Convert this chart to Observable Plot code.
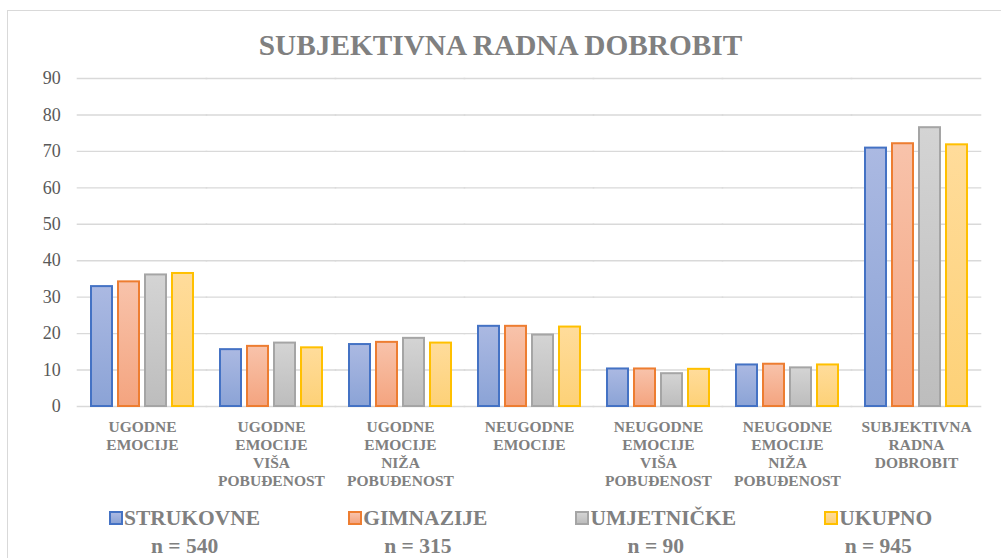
<!DOCTYPE html>
<html><head><meta charset="utf-8">
<script src="https://cdn.jsdelivr.net/npm/d3@7"></script>
<script src="https://cdn.jsdelivr.net/npm/@observablehq/plot@0.6"></script>
<style>
body{margin:0;background:#fff;}
#wrap{position:relative;width:1001px;height:558px;overflow:hidden;background:#fff;font-family:"Liberation Serif","Times New Roman",serif;}
#frame{position:absolute;left:7px;top:10px;width:1100px;height:700px;border:1.5px solid #d9d9d9;box-sizing:border-box;z-index:2;pointer-events:none}
#title{position:absolute;left:0;top:31px;width:1001px;text-align:center;font-weight:bold;font-size:29.3px;line-height:28px;color:#808080}
#chart{position:absolute;left:0;top:65px}
#legend{position:absolute;left:109px;top:503.6px;display:flex;gap:88px}
.item{display:flex;flex-direction:column;align-items:center;font-weight:bold;font-size:21.5px;line-height:28px;color:#808080}
.key{display:flex;align-items:center}
.sw{width:14px;height:14px;box-sizing:border-box;border:2px solid;margin-right:1px}
</style></head>
<body>
<div id="wrap">
  <div id="frame"></div>
  <div id="title"></div>
  <div id="chart"></div>
  <div id="legend"></div>
</div>
<script>
// ---- data ----
const chartTitle = "SUBJEKTIVNA RADNA DOBROBIT";
const categories = [
  "UGODNE\nEMOCIJE",
  "UGODNE\nEMOCIJE\nVIŠA\nPOBUĐENOST",
  "UGODNE\nEMOCIJE\nNIŽA\nPOBUĐENOST",
  "NEUGODNE\nEMOCIJE",
  "NEUGODNE\nEMOCIJE\nVIŠA\nPOBUĐENOST",
  "NEUGODNE\nEMOCIJE\nNIŽA\nPOBUĐENOST",
  "SUBJEKTIVNA\nRADNA\nDOBROBIT"
];
const series = ["STRUKOVNE", "GIMNAZIJE", "UMJETNIČKE", "UKUPNO"];
const sampleSizes = ["n = 540", "n = 315", "n = 90", "n = 945"];
const strukovne  = [32.9, 15.6, 17.0, 22.0, 10.3, 11.4, 70.9];
const gimnazije  = [34.2, 16.5, 17.6, 22.0, 10.3, 11.6, 72.1];
const umjetnicke = [36.1, 17.4, 18.7, 19.6,  9.0, 10.6, 76.5];
const ukupno     = [36.5, 16.1, 17.4, 21.8, 10.2, 11.4, 71.8];
const yTicks = [0, 10, 20, 30, 40, 50, 60, 70, 80, 90];

// ---- styles / layout ----
const strokeColors = ["#4472C4", "#ED7D31", "#A5A5A5", "#FFC000"];
const gradTop = ["#abb9e2", "#f8c3ab", "#d4d4d4", "#ffdc9b"];
const gradBottom = ["#8ba3d6", "#f4a47f", "#bdbdbd", "#fdd177"];
const font = "Liberation Serif, Times New Roman, serif";
const W = 1001, H = 430, mL = 75, mR = 18.3;
const fxPadInner = 0.182, fxPadOuter = 0.091;
const fxStep = (W - mL - mR) / categories.length;
const halfGap = fxStep * fxPadOuter;

const seriesValues = [strukovne, gimnazije, umjetnicke, ukupno];
const rows = [];
categories.forEach((c, i) => series.forEach((s, j) => rows.push({category: c, series: s, value: seriesValues[j][i]})));

const titleEl = document.getElementById("title");
titleEl.textContent = chartTitle;
titleEl.style.fontFamily = font;

const chart = Plot.plot({
  width: W, height: H,
  marginTop: 13, marginBottom: 89, marginLeft: mL, marginRight: mR,
  style: {background: "transparent", fontFamily: font, overflow: "visible"},
  fx: {domain: categories, paddingInner: fxPadInner, paddingOuter: fxPadOuter, label: null},
  x: {domain: series, paddingInner: 0.21, paddingOuter: 0, axis: null},
  y: {domain: [0, 90], label: null},
  marks: [
    Plot.ruleY(yTicks, {stroke: "#d9d9d9", strokeWidth: 1.4, insetLeft: -halfGap - 0.5, insetRight: -halfGap - 0.5}),
    Plot.axisY(yTicks, {tickSize: 0, tickPadding: 17 + halfGap, fontSize: 18, fontFamily: font, color: "#595959", label: null}),
    Plot.axisFx({anchor: "bottom", tickSize: 0, tickPadding: 12.5, fontSize: 15.5, fontFamily: font, fontWeight: "bold", lineHeight: 1.17, color: "#808080", label: null}),
    ...series.map((s, j) => Plot.barY(rows.filter(r => r.series === s), {
      fx: "category", x: "series", y: "value",
      fill: `url(#grad${j})`, stroke: strokeColors[j], strokeWidth: 2
    }))
  ]
});
chart.setAttribute("font-family", font);

const defs = d3.select(chart).insert("defs", ":first-child");
series.forEach((s, j) => {
  const g = defs.append("linearGradient").attr("id", `grad${j}`).attr("x1", 0).attr("y1", 0).attr("x2", 0).attr("y2", 1);
  g.append("stop").attr("offset", "0%").attr("stop-color", gradTop[j]);
  g.append("stop").attr("offset", "100%").attr("stop-color", gradBottom[j]);
});
document.getElementById("chart").appendChild(chart);

const legend = d3.select("#legend");
series.forEach((s, j) => {
  const item = legend.append("div").attr("class", "item").style("font-family", font);
  const key = item.append("div").attr("class", "key");
  key.append("div").attr("class", "sw")
    .style("border-color", strokeColors[j])
    .style("background", `linear-gradient(${gradTop[j]}, ${gradBottom[j]})`);
  key.append("span").text(s);
  item.append("div").text(sampleSizes[j]);
});
</script>
</body></html>
